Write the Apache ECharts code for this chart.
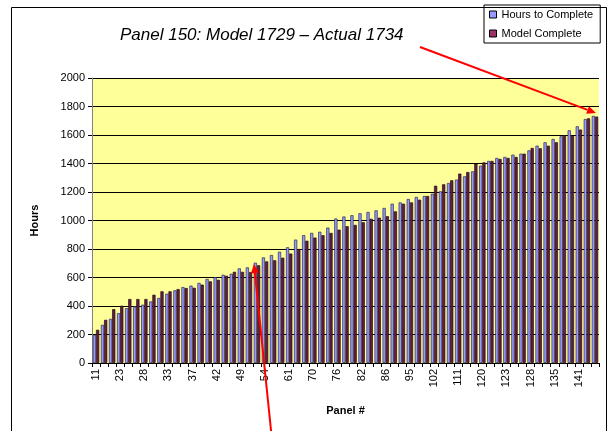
<!DOCTYPE html>
<html><head><meta charset="utf-8">
<script src="https://cdn.jsdelivr.net/npm/echarts@6/dist/echarts.min.js"></script>
<style>html,body{margin:0;padding:0;background:#fff}#c{width:611px;height:431px}</style>
</head><body><div id="c"></div>
<script>
// Panel numbers (every third one is labelled on the axis)
const panels = [11,15,19,23,25,27,28,30,31,33,34,35,37,39,40,42,44,47,49,51,52,54,56,59,61,64,67,70,72,74,
  76,78,80,82,83,85,86,89,92,95,97,100,102,105,108,111,114,117,120,121,122,123,125,126,128,130,133,135,137,139,141,145,150];
const hoursToComplete = [197,268,310,350,385,397,409,432,456,486,510,533,543,562,590,602,619,626,664,671,
  704,741,758,781,812,866,897,913,921,950,1014,1028,1037,1051,1060,1071,1088,1118,1127,1151,
  1165,1172,1188,1205,1263,1287,1310,1345,1385,1418,1439,1446,1462,1469,1492,1525,1549,1572,1591,1633,
  1661,1712,1734];
const modelComplete = [233,303,378,402,449,449,449,479,503,503,519,526,528,550,573,584,612,640,640,638,
  686,713,721,739,768,800,858,880,897,913,936,960,969,988,1012,1020,1030,1064,1118,1127,
  1146,1172,1244,1254,1282,1329,1340,1399,1408,1418,1432,1439,1446,1469,1509,1507,1525,1549,1598,1595,
  1638,1717,1729];
const yTicks = [0,200,400,600,800,1000,1200,1400,1600,1800,2000];
const seriesNames = ['Hours to Complete','Model Complete'];
const titleText = 'Panel 150: Model 1729 \u2013 Actual 1734';

const FONT = 'Liberation Sans, Arial, sans-serif';
const chart = echarts.init(document.getElementById('c'), null, {renderer:'canvas'});
const option = {
  animation:false,
  backgroundColor:'#ffffff',
  title:{text:titleText,left:115,top:22,textStyle:{fontFamily:FONT,fontSize:17,fontStyle:'italic',fontWeight:'normal',color:'#000'}},
  legend:{
    orient:'vertical',left:484,top:5,
    borderColor:'#000',borderWidth:1,padding:[4,7,4,5],itemGap:8,
    itemWidth:7,itemHeight:7,icon:'rect',
    textStyle:{fontFamily:FONT,fontSize:11,color:'#000'},
    data:[
      {name:seriesNames[0],itemStyle:{color:'#9999FF',borderColor:'#000',borderWidth:1}},
      {name:seriesNames[1],itemStyle:{color:'#993366',borderColor:'#000',borderWidth:1}}
    ]
  },
  grid:{left:92,right:12,top:78,bottom:68,show:true,backgroundColor:'#FFFF99',borderWidth:0,containLabel:false},
  xAxis:{
    type:'category',data:panels.map(String),
    name:'Panel #',nameLocation:'middle',nameGap:42,
    nameTextStyle:{fontFamily:FONT,fontSize:11,fontWeight:'bold',color:'#000'},
    axisLine:{show:true,lineStyle:{color:'#000',width:1}},
    axisTick:{show:true,interval:0,length:4,lineStyle:{color:'#000'}},
    axisLabel:{interval:2,rotate:90,fontFamily:FONT,fontSize:11,color:'#000',margin:6},
    splitLine:{show:false}
  },
  yAxis:{
    type:'value',min:yTicks[0],max:yTicks[yTicks.length-1],interval:yTicks[1]-yTicks[0],
    name:'Hours',nameLocation:'middle',nameGap:52,
    nameTextStyle:{fontFamily:FONT,fontSize:11,fontWeight:'bold',color:'#000'},
    axisLine:{show:true,lineStyle:{color:'#808080',width:1}},
    axisTick:{show:true,length:4,lineStyle:{color:'#000'}},
    axisLabel:{fontFamily:FONT,fontSize:11,color:'#000',margin:7,formatter:v=>String(v)},
    splitLine:{show:true,lineStyle:{color:'#000',width:1}}
  },
  series:[
    {name:seriesNames[0],type:'bar',data:hoursToComplete,barWidth:3.2,barGap:'0%',
      itemStyle:{color:'#9999FF',borderColor:'#2a2a55',borderWidth:0.7}},
    {name:seriesNames[1],type:'bar',data:modelComplete,barWidth:3.2,barGap:'0%',
      itemStyle:{color:'#5e1f3f',borderColor:'#2a0a1a',borderWidth:0.7}}
  ]
};
chart.setOption(option);

function arrow(x1,y1,x2,y2){
  const dx=x2-x1, dy=y2-y1, L=Math.hypot(dx,dy), ux=dx/L, uy=dy/L;
  const hl=9, hw=4;
  const bx=x2-ux*hl, by=y2-uy*hl;
  return [
    {type:'line',shape:{x1:x1,y1:y1,x2:bx,y2:by},style:{stroke:'#FF0000',lineWidth:2},z:100},
    {type:'polygon',shape:{points:[[x2,y2],[bx-uy*hw,by+ux*hw],[bx+uy*hw,by-ux*hw]]},style:{fill:'#FF0000'},z:100}
  ];
}
const last = panels.length-1;
const pTop = chart.convertToPixel({gridIndex:0},[last, hoursToComplete[last]+20]);
const pLow = chart.convertToPixel({gridIndex:0},[20, hoursToComplete[20]-10]);
chart.setOption({graphic:[
  {type:'rect',shape:{x:11.5,y:7.5,width:595,height:450},style:{fill:null,stroke:'#000',lineWidth:1},z:-1,silent:true},
  ...arrow(420,47,pTop[0]+1,pTop[1]),
  ...arrow(272,440,pLow[0]-3,pLow[1])
]});
</script>
</body></html>
